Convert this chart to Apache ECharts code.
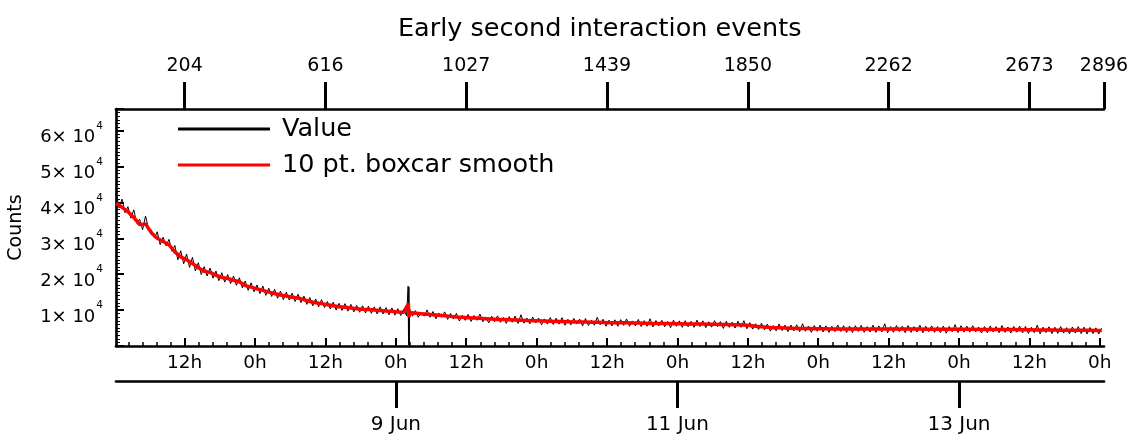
<!DOCTYPE html>
<html><head><meta charset="utf-8">
<script src="https://cdn.jsdelivr.net/npm/echarts@6/dist/echarts.min.js"></script>
<style>html,body{margin:0;padding:0;background:#fff}#c{width:1135px;height:445px}</style>
</head><body><div id="c"></div>
<script>
// ---- data ----
const axisMinTime = '2024-06-07T00:18:00';
const axisMaxTime = '2024-06-14T00:43:00';
const startTime = '2024-06-07T00:20:00';
const valueStepMinutes = 30;
const valueCounts = [
42500,38400,40900,37100,38800,35600,37900,34200,35300,32400,
36200,32800,32300,30100,31800,28200,30300,27900,29700,26400,
28000,24000,26500,22900,25600,21900,24700,20900,23200,19900,
22100,19500,21700,18900,20900,18200,20400,17800,19900,17400,
19500,16900,19000,16200,18100,15500,17600,15100,17000,14600,
16700,14100,16100,13800,15800,13300,15300,12900,15000,12800,
14700,12400,14400,12100,13900,11600,13500,11200,13100,10900,
12900,10700,12400,10300,12200,10000,11900,9900,11800,9700,
11600,9500,11300,9400,11200,9200,11100,9100,10900,8900,
10900,8900,10700,8700,10600,8600,10400,8500,10300,8400,
10300,8300,9850,8000,9400,8300,10050,8000,9600,7600,
9150,8000,9500,7400,9050,7500,9100,6950,8500,7150,
8800,6850,8500,7150,8900,6750,8100,6450,8300,6750,
8400,6600,7950,6300,8200,6600,8350,6300,8700,6350,
7800,6200,8050,6400,7800,5900,7550,6100,7900,6000,
7750,6100,7900,5800,7450,5900,7700,6100,7500,5600,
7650,5700,7200,5800,8000,5900,7450,5500,7200,5600,
7300,5500,7350,5750,7550,5500,7000,5600,7400,5400,
7050,5500,7600,5300,7100,5600,7150,5350,6850,5100,
7200,5500,7000,5200,7050,5350,6850,5200,7200,5400,
7000,5100,6750,5250,7050,5400,6800,4900,6900,5200,
6650,5000,6900,5200,7050,4800,6500,4700,6200,4600,
6350,4500,6100,4150,5700,4200,6150,4300,5800,4000,
5850,4200,5900,4000,6200,4100,5550,3800,5700,4100,
5800,3900,5600,3800,5500,4000,5850,4050,5650,3750,
5550,3750,5650,4050,5750,3800,5400,3900,5800,3800,
5600,3900,6200,3700,5400,3800,5700,4000,5500,3700,
5700,3800,5400,3900,5800,3700,5500,4000,5600,3800,
5400,3700,5550,3550,5450,3950,5950,3750,5650,3850,
5550,3850,5650,3900,5300,3600,5400,3700,5600,3900,
5400,3700,5700,3800,5300,3600,5450,3850,5550,3650,
5450,3500,5200,3700,5800,3400,5250,3750,5350,3450,
5250,3500,5400,3600,5100,3400,5300,3600,5400,3450,
5250,3350,5150,3450,5050,3350,4950
];
const valueSpikeTimes = ['2024-06-09T02:06:00','2024-06-09T02:10:00','2024-06-09T02:14:00','2024-06-09T02:18:00'];
const valueSpikeCounts = [16700, 300, 16400, 200];

const smoothStepMinutes = 60;
const smoothCounts = [
39800,38600,37400,35800,33800,34000,31500,30000,29100,28200,
26200,24800,24000,23000,21800,20800,20500,19700,19100,18800,
18300,17900,16800,16400,15900,15500,15000,14600,14200,13900,
13600,13350,12900,12400,12050,11800,11500,11200,10950,10800,
10600,10400,10250,10150,10000,9900,9750,9650,9500,9400,
9300,9150,9000,8850,8700,8550,8400,8250,8100,8000,
7900,7800,7700,7600,7500,7400,7350,7300,7250,7200,
7100,7050,7000,6950,6900,6850,6800,6750,6700,6700,
6650,6600,6600,6550,6500,6500,6450,6450,6400,6400,
6350,6300,6300,6250,6250,6200,6200,6150,6150,6100,
6100,6050,6050,6000,6000,5950,5900,5850,5700,5500,
5350,5200,5100,5050,5000,4950,4900,4900,4850,4800,
4800,4780,4760,4750,4750,4750,4740,4730,4720,4720,
4710,4710,4700,4700,4700,4700,4700,4700,4690,4690,
4680,4670,4660,4650,4650,4640,4630,4620,4610,4600,
4600,4600,4590,4570,4550,4530,4510,4490,4470,4450,
4430,4410,4400,4390,4380,4370,4360,4350,4340
];
const smoothSpikeTimes = ['2024-06-09T02:09:00','2024-06-09T02:15:00'];
const smoothSpikeCounts = [11800, 8000];

const hourTickTimes = [
'2024-06-07T12:00:00','2024-06-08T00:00:00','2024-06-08T12:00:00','2024-06-09T00:00:00',
'2024-06-09T12:00:00','2024-06-10T00:00:00','2024-06-10T12:00:00','2024-06-11T00:00:00',
'2024-06-11T12:00:00','2024-06-12T00:00:00','2024-06-12T12:00:00','2024-06-13T00:00:00',
'2024-06-13T12:00:00','2024-06-14T00:00:00'
];
const dateTickTimes = ['2024-06-09T00:00:00','2024-06-11T00:00:00','2024-06-13T00:00:00'];
const dateTickLabels = ['9 Jun','11 Jun','13 Jun'];
const eventTickTimes = [
'2024-06-07T12:00:00','2024-06-08T12:00:00','2024-06-09T12:00:00','2024-06-10T12:00:00',
'2024-06-11T12:00:00','2024-06-12T12:00:00','2024-06-13T12:00:00','2024-06-14T00:43:00'
];
const eventTickLabels = ['204','616','1027','1439','1850','2262','2673','2896'];
const yTickMantissas = ['1','2','3','4','5','6'];
const seriesNames = ['Value','10 pt. boxcar smooth'];
const titleText = 'Early second interaction events';
const yAxisName = 'Counts';

// ---- build ----
const T = s => new Date(s).getTime();
const tMin = T(axisMinTime), tMax = T(axisMaxTime), t0 = T(startTime);
function buildSeries(step, vals, sTimes, sVals) {
  const pts = vals.map((v, i) => [t0 + i * step * 60000, v]);
  sTimes.forEach((t, j) => pts.push([T(t), sVals[j]]));
  pts.sort((a, b) => a[0] - b[0]);
  return pts;
}
const valueData = buildSeries(valueStepMinutes, valueCounts, valueSpikeTimes, valueSpikeCounts);
const smoothData = buildSeries(smoothStepMinutes, smoothCounts, smoothSpikeTimes, smoothSpikeCounts);
const hourTicks = hourTickTimes.map(T);
const minorTicks = [];
[T('2024-06-07T00:00:00')].concat(hourTicks).forEach(m => {
  for (let k = 1; k < 5; k++) { const v = m + k * 2.4 * 3600000; if (v > tMin && v < tMax) minorTicks.push(v); }
});
const dateTicks = dateTickTimes.map(T);
const eventTicks = eventTickTimes.map(T);

const FF = 'DejaVu Sans';
const black = '#000';
const line = {color: black, width: 2.7};
const chart = echarts.init(document.getElementById('c'), null, {renderer: 'canvas'});
chart.setOption({
  animation: false,
  backgroundColor: '#fff',
  textStyle: {fontFamily: FF, color: black},
  title: {text: titleText, left: 398, top: 16, padding: 0,
    textStyle: {fontFamily: FF, fontSize: 25.5, fontWeight: 'normal', color: black}},
  legend: {orient: 'vertical', left: 178, top: 114, padding: 0, icon: 'rect', itemWidth: 92, itemHeight: 3, itemGap: 6,
    textStyle: {fontFamily: FF, fontSize: 25.5, color: black, lineHeight: 30, padding: [0, 0, 0, 7]},
    data: seriesNames},
  grid: {left: 116, right: 31, top: 109, bottom: 99, containLabel: false, outerBoundsMode: 'none'},
  xAxis: [
    {type: 'value', position: 'bottom', min: tMin, max: tMax,
      axisLine: {show: true, onZero: false, lineStyle: line},
      axisTick: {show: true, inside: true, length: 8, lineStyle: {color: black, width: 2}, customValues: hourTicks},
      axisLabel: {show: true, customValues: hourTicks, fontFamily: FF, fontSize: 18.5, color: black, margin: 8,
        formatter: v => (new Date(v).getHours() === 0 ? '0h' : '12h')},
      splitLine: {show: false}},
    {type: 'value', position: 'bottom', min: tMin, max: tMax,
      axisLine: {show: false, onZero: false},
      axisTick: {show: true, inside: true, length: 4, lineStyle: {color: black, width: 1.5}, customValues: minorTicks},
      axisLabel: {show: false}, splitLine: {show: false}},
    {type: 'value', position: 'bottom', offset: 35, min: tMin, max: tMax,
      axisLine: {show: true, onZero: false, lineStyle: line},
      axisTick: {show: true, inside: false, length: 27, lineStyle: {color: black, width: 3}, customValues: dateTicks},
      axisLabel: {show: true, customValues: dateTicks, fontFamily: FF, fontSize: 20, color: black, margin: 34,
        formatter: v => dateTickLabels[dateTicks.indexOf(v)] || ''},
      splitLine: {show: false}},
    {type: 'value', position: 'top', min: tMin, max: tMax,
      axisLine: {show: true, onZero: false, lineStyle: line},
      axisTick: {show: true, inside: false, length: 27, lineStyle: {color: black, width: 3}, customValues: eventTicks},
      axisLabel: {show: true, customValues: eventTicks, fontFamily: FF, fontSize: 19, color: black, margin: 33,
        formatter: v => eventTickLabels[eventTicks.indexOf(v)] || ''},
      splitLine: {show: false}}
  ],
  yAxis: {type: 'value', min: 0, max: 66000, interval: 10000,
    name: yAxisName, nameLocation: 'middle', nameRotate: 90, nameGap: 90,
    nameTextStyle: {fontFamily: FF, fontSize: 19, color: black},
    axisLine: {show: true, onZero: false, lineStyle: line},
    axisTick: {show: true, inside: true, length: 8, lineStyle: {color: black, width: 2}},
    minorTick: {show: true, splitNumber: 10, length: 4, lineStyle: {color: black, width: 1}},
    splitLine: {show: false}, minorSplitLine: {show: false},
    axisLabel: {margin: 13, showMaxLabel: false,
      formatter: v => { const k = v / 10000; if (v === 0 || k !== Math.round(k) || !yTickMantissas[k - 1]) return ''; return '{m|' + yTickMantissas[k - 1] + '× 10}{s|4}'; },
      rich: {m: {fontFamily: FF, fontSize: 18, color: black, lineHeight: 22, padding: [9, 0, 0, 0], verticalAlign: 'top'},
             s: {fontFamily: FF, fontSize: 10.5, color: black, lineHeight: 22, padding: [1, 0, 0, 1], verticalAlign: 'top'}}}},
  series: [
    {name: seriesNames[0], type: 'line', xAxisIndex: 0, data: valueData, showSymbol: false, symbol: 'none',
      color: black, lineStyle: {color: black, width: 1}, z: 2},
    {name: seriesNames[1], type: 'line', xAxisIndex: 0, data: smoothData, showSymbol: false, symbol: 'none',
      color: '#ff0000', lineStyle: {color: '#ff0000', width: 3.5}, z: 3}
  ]
});
</script></body></html>
